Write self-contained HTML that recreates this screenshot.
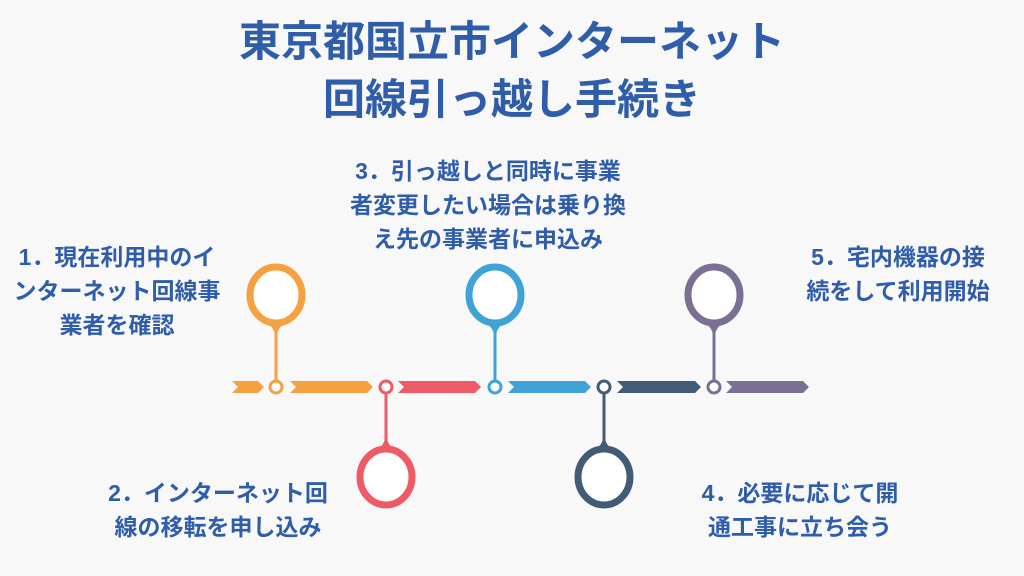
<!DOCTYPE html>
<html><head><meta charset="utf-8"><style>
html,body{margin:0;padding:0}
body{width:1024px;height:576px;background:#f8f8f8;position:relative;overflow:hidden;font-family:"Liberation Sans","Noto Sans CJK JP",sans-serif;font-weight:bold;color:#2f5daa}
.t{position:absolute;left:0;width:1024px;text-align:center;font-size:42px;line-height:58px}
.l{position:absolute;text-align:center;font-size:23px;line-height:34px;white-space:nowrap;transform:translateX(-50%)}
svg{position:absolute;left:0;top:0}
</style></head><body>
<div class="t" style="top:13px">東京都国立市インターネット</div>
<div class="t" style="top:71px">回線引っ越し手続き</div>
<div class="l" style="left:117px;top:240px">1．現在利用中のイ<br>ンターネット回線事<br>業者を確認</div>
<div class="l" style="left:488px;top:154px">3．引っ越しと同時に事業<br>者変更したい場合は乗り換<br>え先の事業者に申込み</div>
<div class="l" style="left:898px;top:240px">5．宅内機器の接<br>続をして利用開始</div>
<div class="l" style="left:218px;top:476px">2．インターネット回<br>線の移転を申し込み</div>
<div class="l" style="left:800px;top:476px">4．必要に応じて開<br>通工事に立ち会う</div>
<svg width="1024" height="576">
<g>
<polygon points="232,381 258,381 264,387 258,393 232,393 238,387" fill="#f5a142"/>
<polygon points="290,381 367,381 373,387 367,393 290,393 296,387" fill="#f5a142"/>
<polygon points="398,381 475,381 481,387 475,393 398,393 404,387" fill="#ee5a66"/>
<polygon points="508,381 585,381 591,387 585,393 508,393 514,387" fill="#3fa3d8"/>
<polygon points="617,381 695,381 701,387 695,393 617,393 623,387" fill="#435c75"/>
<polygon points="726,381 803,381 809,387 803,393 726,393 732,387" fill="#7b7094"/>
</g>
<g fill="none" stroke-width="7">
<g stroke="#f5a142"><line x1="276" y1="320" x2="276" y2="382" stroke-width="3"/><path d="M268,323 Q276,329 276,339 Q276,329 284,323Z" fill="#f5a142" stroke-width="1"/><ellipse cx="276" cy="295" rx="26" ry="28" fill="#fff"/><circle cx="276" cy="387" r="6" fill="#fff" stroke-width="3"/></g>
<g stroke="#ee5a66"><line x1="386" y1="392" x2="386" y2="452" stroke-width="3"/><path d="M378,450 Q386,444 386,434 Q386,444 394,450Z" fill="#ee5a66" stroke-width="1"/><ellipse cx="386" cy="477" rx="26" ry="28" fill="#fff"/><circle cx="386" cy="387" r="6" fill="#fff" stroke-width="3"/></g>
<g stroke="#3fa3d8"><line x1="495" y1="320" x2="495" y2="382" stroke-width="3"/><path d="M487,323 Q495,329 495,339 Q495,329 503,323Z" fill="#3fa3d8" stroke-width="1"/><ellipse cx="495" cy="295" rx="26" ry="28" fill="#fff"/><circle cx="495" cy="387" r="6" fill="#fff" stroke-width="3"/></g>
<g stroke="#435c75"><line x1="604" y1="392" x2="604" y2="452" stroke-width="3"/><path d="M596,450 Q604,444 604,434 Q604,444 612,450Z" fill="#435c75" stroke-width="1"/><ellipse cx="604" cy="477" rx="26" ry="28" fill="#fff"/><circle cx="604" cy="387" r="6" fill="#fff" stroke-width="3"/></g>
<g stroke="#7b7094"><line x1="714" y1="320" x2="714" y2="382" stroke-width="3"/><path d="M706,323 Q714,329 714,339 Q714,329 722,323Z" fill="#7b7094" stroke-width="1"/><ellipse cx="714" cy="295" rx="26" ry="28" fill="#fff"/><circle cx="714" cy="387" r="6" fill="#fff" stroke-width="3"/></g>
</g>
</svg>
</body></html>
